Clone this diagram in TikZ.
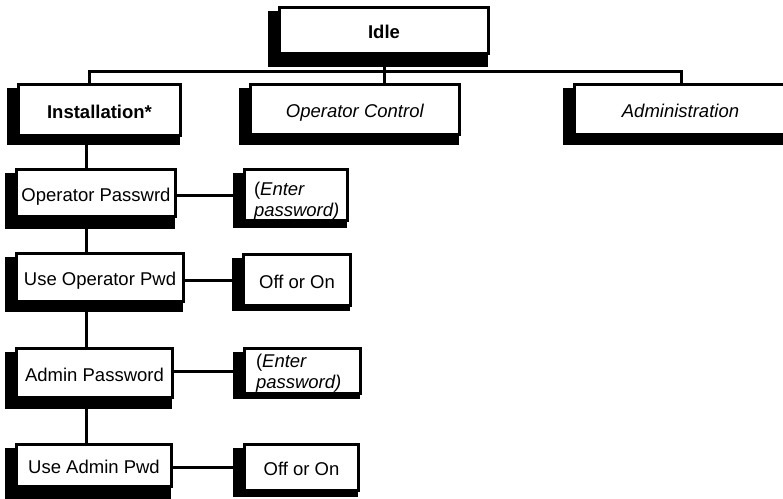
\documentclass[tikz,border=0pt]{standalone}
\usepackage{fontspec}
\setmainfont{Liberation Sans}
\usetikzlibrary{backgrounds}
\newcommand{\twoline}[2]{\makebox[0pt][l]{\hspace*{#1pt}\raisebox{#2pt}[0pt][0pt]{\parbox[t]{110pt}{\baselineskip=21pt (\textit{Enter}\\\textit{password)}}}}}
\tikzset{
  box/.style={draw=black, line width=3.4pt, fill=white, inner sep=0pt,
    font=\fontsize{18.5}{21}\selectfont, text height=16pt, text depth=0pt},
  entrybox/.style={box, text height=0pt, text depth=0pt},
  conn/.style={line width=3pt},
  shade/.style={fill=black}
}
\begin{document}
\begin{tikzpicture}[x=1pt,y=-1pt]
\useasboundingbox (0,0) rectangle (783,498);
\clip (0,0) rectangle (783,498);
% top level
\node[box, minimum width=208.6pt, minimum height=45.6pt] (idle) at (384,30.5) {\textbf{Idle}};
\node[box, minimum width=161.6pt, minimum height=50.6pt] (inst) at (99.5,110) {\textbf{Installation*}};
\node[box, minimum width=208.6pt, minimum height=49.6pt] (opc) at (355,109.5) {\textit{Operator Control}};
\node[box, minimum width=211.6pt, minimum height=49.6pt] (adm) at (680.5,109.5) {\textit{Administration}};
% left column
\node[box, minimum width=158.6pt, minimum height=46.6pt] (opw) at (96,193) {Operator Passwrd};
\node[box, minimum width=166.6pt, minimum height=47.6pt] (uop) at (100,277.5) {Use Operator Pwd};
\node[box, minimum width=155.6pt, minimum height=48.6pt] (apw) at (94.5,373) {Admin Password};
\node[box, minimum width=154.6pt, minimum height=41.6pt] (uap) at (94,465.5) {Use Admin Pwd};
% right column
\node[entrybox, minimum width=102.6pt, minimum height=50.6pt] (ep1) at (296,195) {\twoline{-42}{0}};
\node[box, minimum width=106.6pt, minimum height=50.6pt] (oo1) at (297,280) {Off or On};
\node[entrybox, minimum width=115.6pt, minimum height=44.6pt] (ep2) at (302.5,371) {\twoline{-46.5}{4}};
\node[box, minimum width=113.6pt, minimum height=45.6pt] (oo2) at (301.5,467.5) {Off or On};
% shadows
\begin{pgfonlayer}{background}
\foreach \n/\db in {idle/10, inst/6, opc/7, adm/7, opw/9, ep1/4, uop/7, oo1/2, apw/8, ep2/2, uap/9, oo2/3}
  \fill[shade] ([xshift=-10pt,yshift=-4.5pt]\n.north west) rectangle ([xshift=-2.5pt,yshift=-\db pt-1.7pt]\n.south east);
\end{pgfonlayer}
% bus
\coordinate (busL) at (89,71);
\coordinate (busR) at (681,71);
\coordinate (spine) at (86,0);
\draw[conn] (busL |- inst.north) -- (busL) -- (busR) -- (busR |- adm.north);
\draw[conn] (idle.south) -- (idle.south |- opc.north);
% spine
\draw[conn] (spine |- inst.south) -- (spine |- opw.north);
\draw[conn] (spine |- opw.south) -- (spine |- uop.north);
\draw[conn] (spine |- uop.south) -- (spine |- apw.north);
\draw[conn] (spine |- apw.south) -- (spine |- uap.north);
% horizontal connectors
\draw[conn] (opw.east |- ep1.west) -- (ep1.west);
\draw[conn] (uop.east |- oo1.west) -- (oo1.west);
\draw[conn] (apw.east |- ep2.west) -- (ep2.west);
\draw[conn] (uap.east |- oo2.west) -- (oo2.west);
\end{tikzpicture}
\end{document}
